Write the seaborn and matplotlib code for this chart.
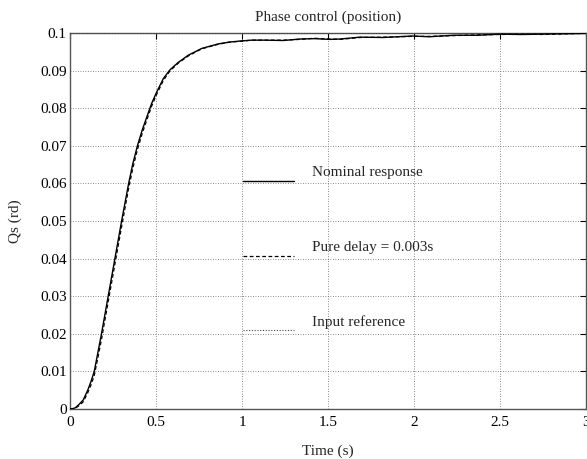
import matplotlib
matplotlib.use("Agg")
import matplotlib.pyplot as plt
import seaborn as sns
import pandas as pd

# ---- data ----
time_s = [0.0, 0.015, 0.03, 0.05, 0.077, 0.103, 0.122, 0.141, 0.162, 0.183,
          0.222, 0.261, 0.300, 0.341, 0.365, 0.392, 0.42, 0.446, 0.475, 0.504,
          0.543, 0.581, 0.630, 0.688, 0.766, 0.862, 0.93, 0.998, 1.056, 1.13,
          1.24, 1.337, 1.42, 1.51, 1.57, 1.686, 1.82, 1.99, 2.09, 2.23, 2.37,
          2.5, 2.62, 2.75, 2.89, 3.0]
nominal = [0.0, 0.0001, 0.0003, 0.0011, 0.0024, 0.0050, 0.0073, 0.0100, 0.0150,
           0.0200, 0.0300, 0.0400, 0.0500, 0.0600, 0.0652, 0.0700, 0.0742,
           0.0776, 0.0813, 0.0843, 0.0879, 0.0902, 0.0922, 0.0941, 0.0959,
           0.0971, 0.0976, 0.0979, 0.0981, 0.0981, 0.0980, 0.0984, 0.0985,
           0.0983, 0.0984, 0.0989, 0.0988, 0.0992, 0.0990, 0.0994, 0.0994,
           0.0997, 0.0996, 0.0997, 0.0998, 0.0999]
pure_delay = [0.0, 0.0000, 0.0002, 0.0008, 0.0019, 0.0043, 0.0064, 0.0089, 0.0136,
              0.0185, 0.0285, 0.0385, 0.0485, 0.0587, 0.0640, 0.0690, 0.0733,
              0.0768, 0.0806, 0.0837, 0.0874, 0.0899, 0.0920, 0.0939, 0.0958,
              0.0970, 0.0976, 0.0978, 0.0981, 0.0981, 0.0981, 0.0983, 0.0986,
              0.0984, 0.0983, 0.0988, 0.0989, 0.0991, 0.0991, 0.0993, 0.0995,
              0.0996, 0.0997, 0.0996, 0.0998, 0.0999]
ref_time = [0.0, 3.0]
input_reference = [0.1, 0.1]

legend_labels = ["Nominal response", "Pure delay = 0.003s", "Input reference"]
x_ticks = [0, 0.5, 1, 1.5, 2, 2.5, 3]
x_tick_labels = ["0", "0.5", "1", "1.5", "2", "2.5", "3"]
y_ticks = [0, 0.01, 0.02, 0.03, 0.04, 0.05, 0.06, 0.07, 0.08, 0.09, 0.1]
y_tick_labels = ["0", "0.01", "0.02", "0.03", "0.04", "0.05", "0.06", "0.07",
                 "0.08", "0.09", "0.1"]

FS = 11

sns.set_theme(style="white")
plt.rcParams["font.family"] = ["Liberation Serif", "DejaVu Serif"]
plt.rcParams["font.size"] = FS

fig = plt.figure(figsize=(5.87, 4.59), dpi=100)
ax = fig.add_axes([70 / 587, 1 - 409 / 459, 516 / 587, 376 / 459])

df_nom = pd.DataFrame({"t": time_s, "v": nominal})
df_del = pd.DataFrame({"t": time_s, "v": pure_delay})
df_ref = pd.DataFrame({"t": ref_time, "v": input_reference})

sns.lineplot(data=df_ref, x="t", y="v", ax=ax, color="#444444", lw=0.8,
             linestyle=(0, (1, 1.5)), zorder=3)
sns.lineplot(data=df_nom, x="t", y="v", ax=ax, color="black", lw=1.0, zorder=4)
sns.lineplot(data=df_del, x="t", y="v", ax=ax, color="black", lw=0.9,
             linestyle=(0, (3, 2)), zorder=5)

ax.set_xlim(0, 3)
ax.set_ylim(0, 0.1)
ax.set_xticks(x_ticks)
ax.set_xticklabels(x_tick_labels)
ax.set_yticks(y_ticks)
ax.set_yticklabels(y_tick_labels)
ax.grid(True, color="#666666", linestyle=(0, (1, 2)), linewidth=0.6)
ax.tick_params(direction="in", length=4, width=0.8, top=True, right=True,
               labelsize=FS, colors="black")
ax.tick_params(axis="y", pad=2.5)
ax.tick_params(axis="x", pad=5)
for s in ax.spines.values():
    s.set_color("#555555")
    s.set_linewidth(1.0)

ax.set_title("Phase control (position)", fontsize=FS, pad=0,
             y=1 + (33 - 17) / 376, va="center")
ax.set_xlabel("Time (s)", fontsize=FS)
ax.set_ylabel("Qs (rd)", fontsize=FS)
ax.xaxis.set_label_coords(0.5, (409 - 451) / 376)
ax.xaxis.label.set_va("center")
ax.yaxis.set_label_coords((15 - 70) / 516, 0.5)
ax.yaxis.label.set_va("center")

# legend drawn inside the axes, MATLAB-style
styles = [dict(color="black", lw=1.0, linestyle="-"),
          dict(color="black", lw=0.9, linestyle=(0, (3, 2))),
          dict(color="#444444", lw=0.8, linestyle=(0, (1, 1.5)))]
leg_y = [0.0606, 0.0407, 0.0210]
for lab, st, yy in zip(legend_labels, styles, leg_y):
    ax.plot([1.006, 1.304], [yy, yy], **st, zorder=6)
    ax.text(1.407, yy + 0.0022, lab, fontsize=FS, va="center", ha="left")

fig.savefig("out.png", dpi=100)
